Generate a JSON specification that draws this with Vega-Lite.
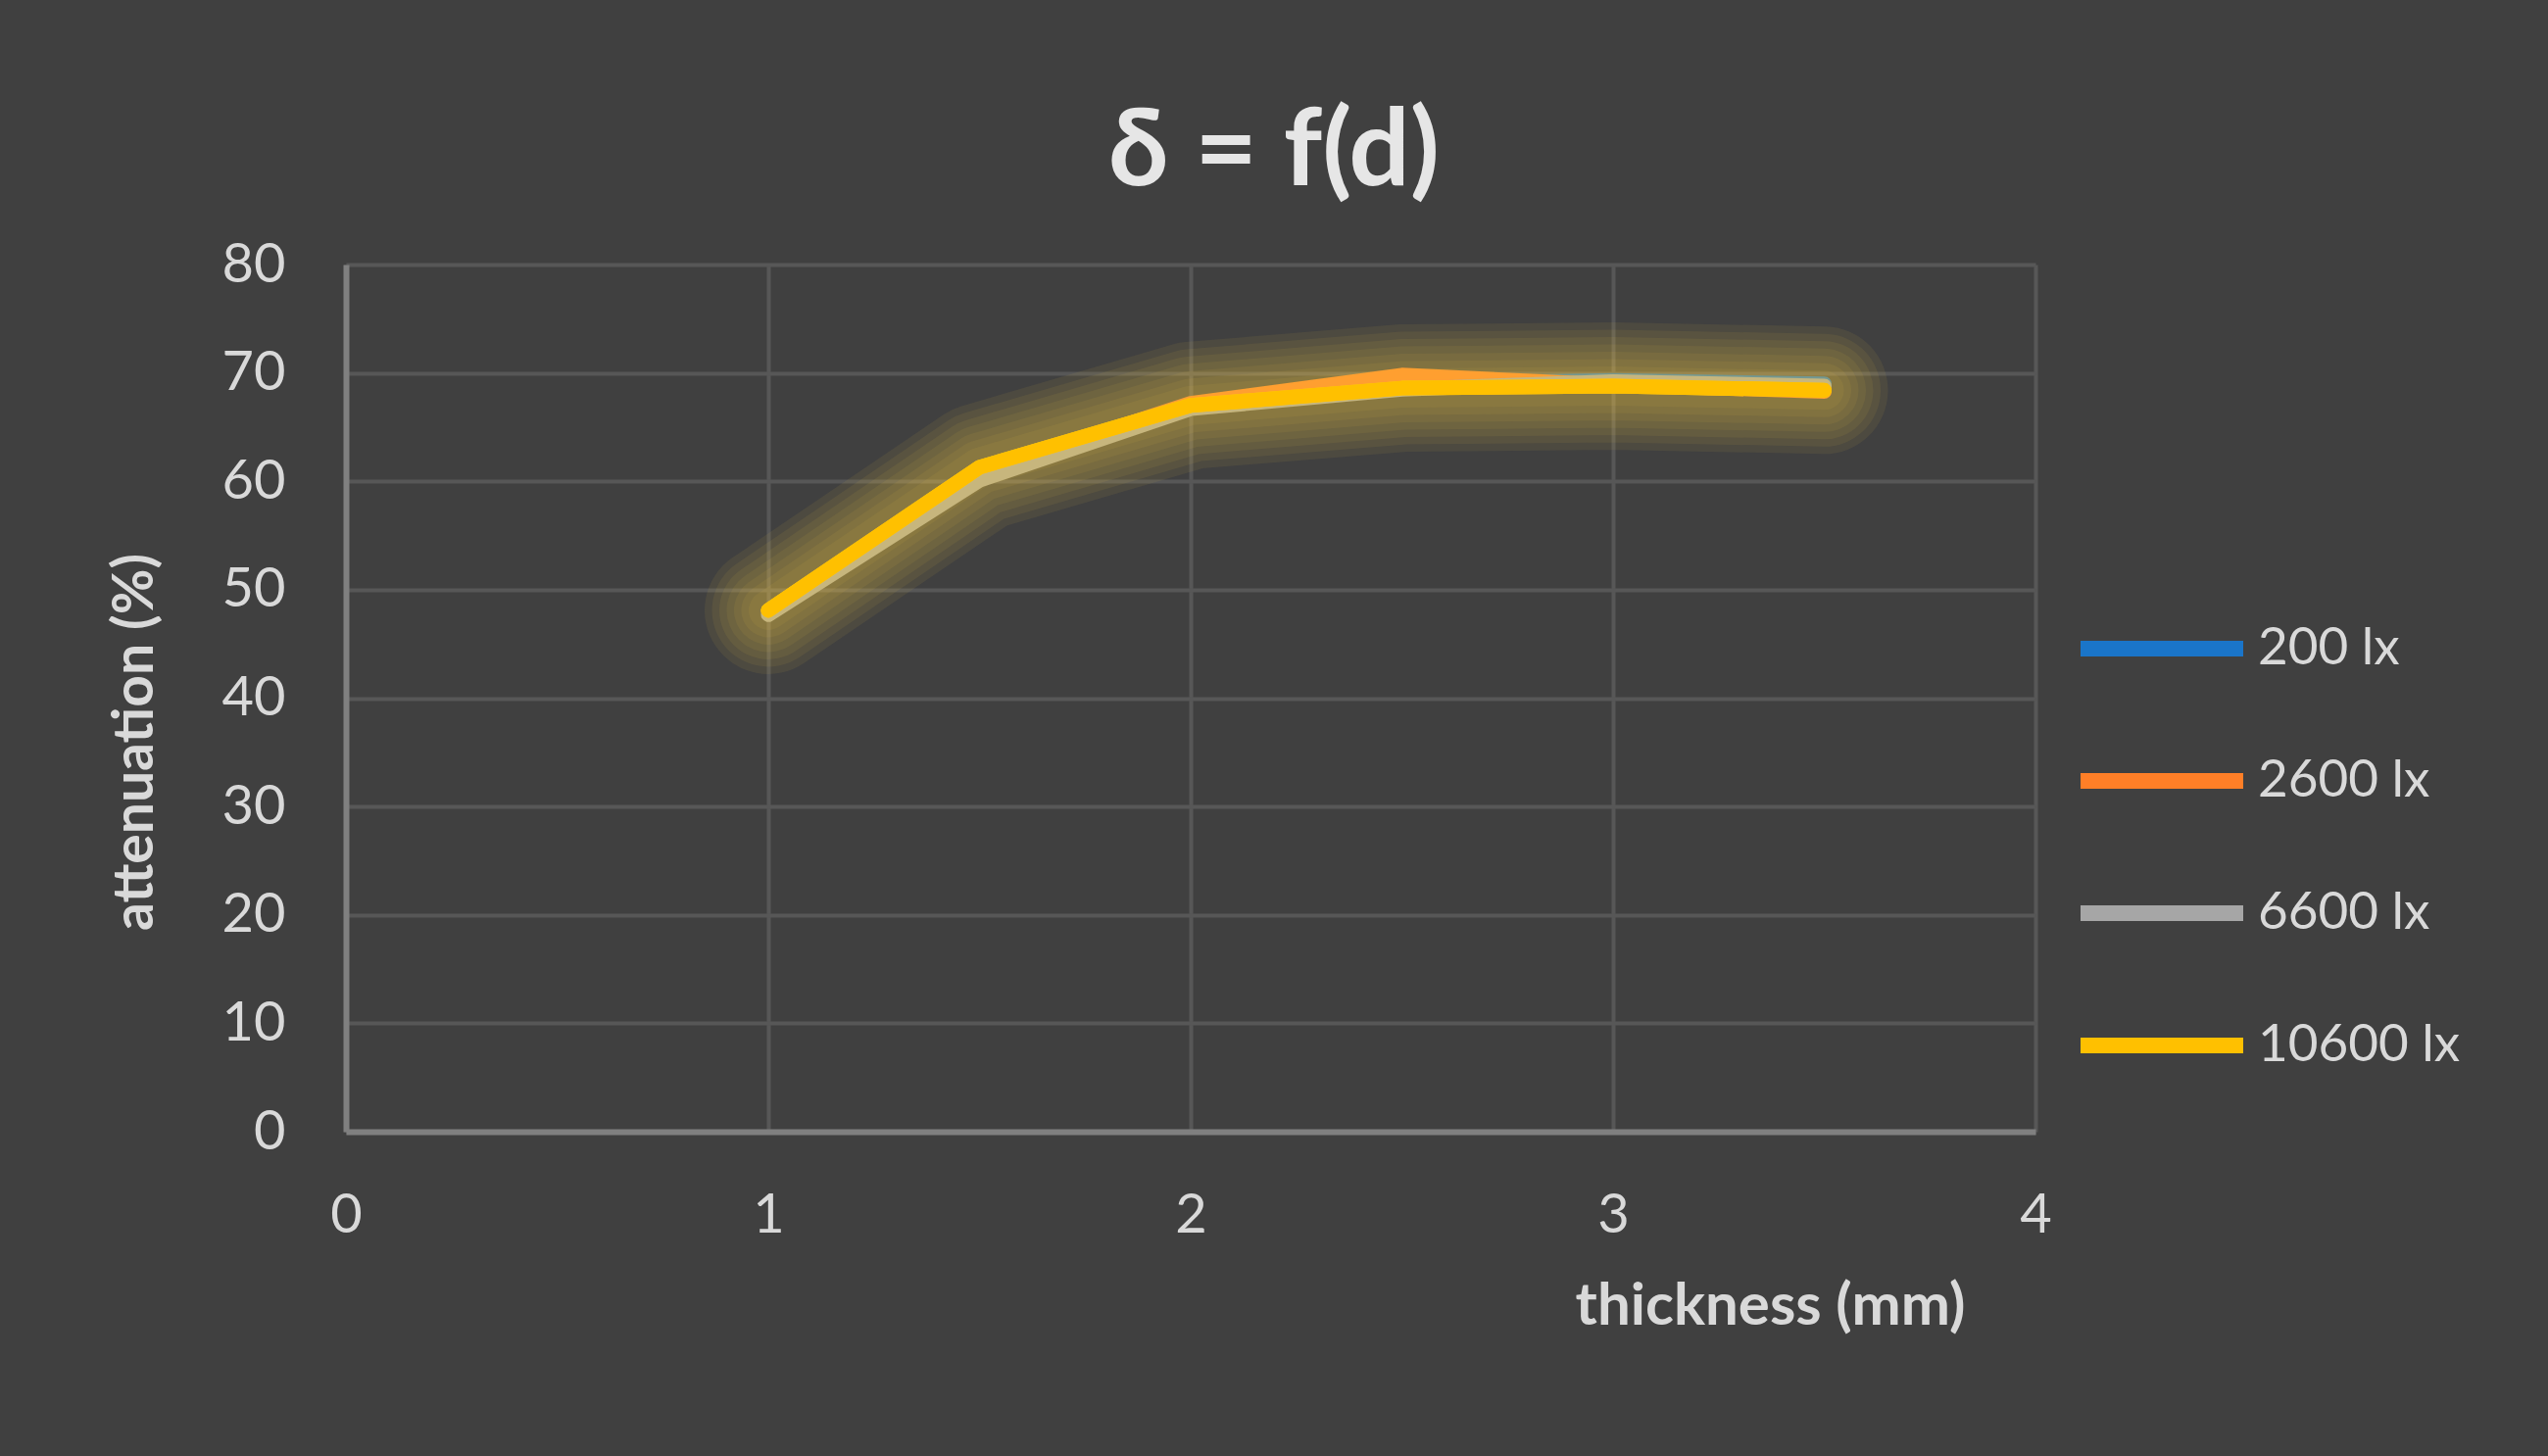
{
  "$schema": "https://vega.github.io/schema/vega-lite/v6.json",
  "autosize": {"type": "none"},
  "width": 1724,
  "height": 885,
  "padding": {"left": 353, "top": 270, "right": 523, "bottom": 331},
  "background": "#404040",
  "title": {
    "text": "δ = f(d)",
    "font": "Lato",
    "fontSize": 110,
    "fontWeight": "bold",
    "color": "#e6e6e6",
    "anchor": "middle",
    "baseline": "alphabetic",
    "offset": -57,
    "dx": 85
  },
  "data": {
    "values": [
      {"thickness": 1, "attenuation": 48.0, "series": "200 lx"},
      {"thickness": 1.5, "attenuation": 60.4, "series": "200 lx"},
      {"thickness": 2, "attenuation": 66.8, "series": "200 lx"},
      {"thickness": 2.5, "attenuation": 69.0, "series": "200 lx"},
      {"thickness": 3, "attenuation": 69.3, "series": "200 lx"},
      {"thickness": 3.5, "attenuation": 69.0, "series": "200 lx"},
      {"thickness": 1, "attenuation": 48.0, "series": "2600 lx"},
      {"thickness": 1.5, "attenuation": 60.8, "series": "2600 lx"},
      {"thickness": 2, "attenuation": 67.2, "series": "2600 lx"},
      {"thickness": 2.5, "attenuation": 69.8, "series": "2600 lx"},
      {"thickness": 3, "attenuation": 68.9, "series": "2600 lx"},
      {"thickness": 3.5, "attenuation": 68.3, "series": "2600 lx"},
      {"thickness": 1, "attenuation": 47.7, "series": "6600 lx"},
      {"thickness": 1.5, "attenuation": 60.1, "series": "6600 lx"},
      {"thickness": 2, "attenuation": 66.7, "series": "6600 lx"},
      {"thickness": 2.5, "attenuation": 68.5, "series": "6600 lx"},
      {"thickness": 3, "attenuation": 69.2, "series": "6600 lx"},
      {"thickness": 3.5, "attenuation": 68.8, "series": "6600 lx"},
      {"thickness": 1, "attenuation": 48.1, "series": "10600 lx"},
      {"thickness": 1.5, "attenuation": 61.3, "series": "10600 lx"},
      {"thickness": 2, "attenuation": 67.0, "series": "10600 lx"},
      {"thickness": 2.5, "attenuation": 68.6, "series": "10600 lx"},
      {"thickness": 3, "attenuation": 68.8, "series": "10600 lx"},
      {"thickness": 3.5, "attenuation": 68.4, "series": "10600 lx"}
    ]
  },
  "encoding": {
    "x": {
      "field": "thickness",
      "type": "quantitative",
      "title": "thickness (mm)",
      "scale": {"domain": [0, 4]},
      "axis": {
        "values": [0, 1, 2, 3, 4],
        "labelPadding": 58,
        "labelBaseline": "top",
        "labelFlush": false,
        "titleX": 1453,
        "titleY": 178,
        "titleAlign": "center",
        "titleBaseline": "middle"
      }
    },
    "y": {
      "field": "attenuation",
      "type": "quantitative",
      "title": "attenuation (%)",
      "scale": {"domain": [0, 80]},
      "axis": {
        "values": [0, 10, 20, 30, 40, 50, 60, 70, 80],
        "labelPadding": 62,
        "labelFlush": false,
        "titleFontSize": 57,
        "titleX": -215,
        "titleY": 487,
        "titleAngle": 270,
        "titleAlign": "center",
        "titleBaseline": "middle"
      }
    }
  },
  "layer": [
    {
      "mark": {"type": "line", "strokeWidth": 15, "strokeCap": "round", "strokeJoin": "round"},
      "encoding": {
        "color": {
          "field": "series",
          "type": "nominal",
          "title": null,
          "sort": ["200 lx", "2600 lx", "6600 lx", "10600 lx"],
          "scale": {
            "domain": ["200 lx", "2600 lx", "6600 lx", "10600 lx"],
            "range": ["#1a75c9", "#ff7f27", "#a6a6a6", "#ffc000"]
          },
          "legend": {
            "orient": "none",
            "legendX": 1762,
            "legendY": 301,
            "symbolType": "stroke",
            "symbolSize": 27556,
            "symbolStrokeWidth": 16,
            "labelFont": "Lato",
            "labelFontSize": 53,
            "labelColor": "#d9d9d9",
            "labelOffset": 7,
            "labelLimit": 500,
            "rowPadding": 12
          }
        }
      }
    },
    {
      "transform": [{"filter": "datum.series === '10600 lx'"}],
      "mark": {"type": "line", "strokeWidth": 130, "strokeCap": "round", "strokeJoin": "round", "color": "#ffd24a", "opacity": 0.07}
    },
    {
      "transform": [{"filter": "datum.series === '10600 lx'"}],
      "mark": {"type": "line", "strokeWidth": 115, "strokeCap": "round", "strokeJoin": "round", "color": "#ffd24a", "opacity": 0.07}
    },
    {
      "transform": [{"filter": "datum.series === '10600 lx'"}],
      "mark": {"type": "line", "strokeWidth": 100, "strokeCap": "round", "strokeJoin": "round", "color": "#ffd24a", "opacity": 0.07}
    },
    {
      "transform": [{"filter": "datum.series === '10600 lx'"}],
      "mark": {"type": "line", "strokeWidth": 85, "strokeCap": "round", "strokeJoin": "round", "color": "#ffd24a", "opacity": 0.07}
    },
    {
      "transform": [{"filter": "datum.series === '10600 lx'"}],
      "mark": {"type": "line", "strokeWidth": 70, "strokeCap": "round", "strokeJoin": "round", "color": "#ffd24a", "opacity": 0.07}
    },
    {
      "transform": [{"filter": "datum.series === '10600 lx'"}],
      "mark": {"type": "line", "strokeWidth": 55, "strokeCap": "round", "strokeJoin": "round", "color": "#ffd24a", "opacity": 0.07}
    },
    {
      "transform": [{"filter": "datum.series === '10600 lx'"}],
      "mark": {"type": "line", "strokeWidth": 40, "strokeCap": "round", "strokeJoin": "round", "color": "#ffd24a", "opacity": 0.07}
    },
    {
      "transform": [{"filter": "datum.series === '10600 lx'"}],
      "mark": {"type": "line", "strokeWidth": 15, "strokeCap": "round", "strokeJoin": "round", "color": "#ffc000"}
    }
  ],
  "config": {
    "view": {"stroke": null},
    "axis": {
      "labelFont": "Lato",
      "labelFontSize": 56,
      "labelColor": "#d9d9d9",
      "titleFont": "Lato",
      "titleFontSize": 60,
      "titleFontWeight": "bold",
      "titleColor": "#d9d9d9",
      "ticks": false,
      "gridColor": "#575757",
      "gridWidth": 4,
      "domainColor": "#808080",
      "domainWidth": 6
    }
  }
}
